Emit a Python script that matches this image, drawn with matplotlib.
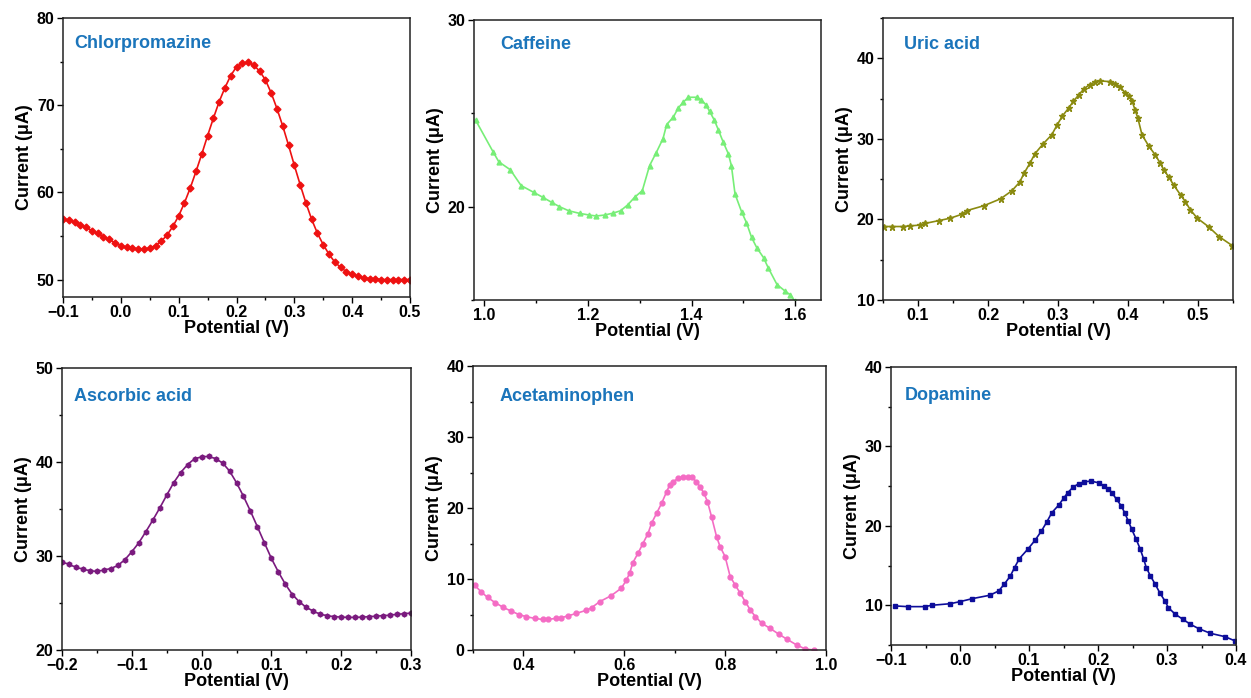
import matplotlib
matplotlib.use('Agg')
import matplotlib.pyplot as plt
from matplotlib.ticker import MultipleLocator

plt.rcParams['font.family'] = ['Liberation Sans', 'DejaVu Sans']
plt.rcParams['font.weight'] = 'bold'

# Chlorpromazine
cpz_x = [-0.10, -0.09, -0.08, -0.07, -0.06, -0.05, -0.04, -0.03, -0.02, -0.01,
         0.00, 0.01, 0.02, 0.03, 0.04, 0.05, 0.06, 0.07, 0.08, 0.09,
         0.10, 0.11, 0.12, 0.13, 0.14, 0.15, 0.16, 0.17, 0.18, 0.19,
         0.20, 0.21, 0.22, 0.23, 0.24, 0.25, 0.26, 0.27, 0.28, 0.29,
         0.30, 0.31, 0.32, 0.33, 0.34, 0.35, 0.36, 0.37, 0.38, 0.39,
         0.40, 0.41, 0.42, 0.43, 0.44, 0.45, 0.46, 0.47, 0.48, 0.49, 0.50]
cpz_y = [56.9, 56.8, 56.6, 56.3, 56.0, 55.6, 55.3, 54.9, 54.6, 54.2,
         53.9, 53.7, 53.6, 53.5, 53.5, 53.6, 53.9, 54.4, 55.1, 56.1,
         57.3, 58.8, 60.5, 62.4, 64.4, 66.5, 68.5, 70.4, 72.0, 73.4,
         74.4, 74.8, 74.9, 74.6, 73.9, 72.9, 71.4, 69.6, 67.6, 65.4,
         63.1, 60.9, 58.8, 56.9, 55.3, 54.0, 52.9, 52.0, 51.4, 50.9,
         50.6, 50.4, 50.2, 50.1, 50.1, 50.0, 50.0, 50.0, 50.0, 50.0, 50.0]

# Caffeine
caf_x = [0.983, 1.017, 1.028, 1.050, 1.071, 1.095, 1.113, 1.130, 1.145, 1.163,
         1.184, 1.203, 1.216, 1.232, 1.248, 1.263, 1.277, 1.290, 1.305, 1.319,
         1.332, 1.345, 1.352, 1.365, 1.374, 1.384, 1.394, 1.410, 1.419, 1.428,
         1.435, 1.444, 1.452, 1.461, 1.471, 1.477, 1.484, 1.497, 1.506, 1.516,
         1.526, 1.539, 1.548, 1.565, 1.581, 1.590, 1.600]
caf_y = [24.64, 22.93, 22.40, 21.98, 21.13, 20.77, 20.50, 20.23, 20.00, 19.78,
         19.64, 19.55, 19.50, 19.55, 19.65, 19.78, 20.10, 20.50, 20.86, 22.20,
         22.90, 23.65, 24.40, 24.80, 25.27, 25.60, 25.86, 25.86, 25.72, 25.45,
         25.10, 24.64, 24.10, 23.47, 22.84, 22.20, 20.68, 19.70, 19.15, 18.35,
         17.80, 17.27, 16.73, 15.83, 15.47, 15.29, 14.93]

# Uric acid
ua_x = [0.051, 0.063, 0.079, 0.089, 0.103, 0.110, 0.130, 0.146, 0.163, 0.170,
        0.194, 0.218, 0.234, 0.245, 0.252, 0.260, 0.267, 0.279, 0.291, 0.299,
        0.306, 0.315, 0.322, 0.330, 0.337, 0.345, 0.353, 0.360, 0.374, 0.382,
        0.389, 0.396, 0.401, 0.406, 0.410, 0.414, 0.420, 0.430, 0.439, 0.446,
        0.451, 0.458, 0.465, 0.475, 0.482, 0.489, 0.499, 0.515, 0.530, 0.549]
ua_y = [19.12, 19.12, 19.12, 19.2, 19.3, 19.5, 19.86, 20.15, 20.65, 21.1,
        21.7, 22.56, 23.55, 24.6, 25.8, 27.0, 28.15, 29.4, 30.5, 31.76,
        32.8, 33.8, 34.66, 35.5, 36.2, 36.73, 37.06, 37.2, 37.1, 36.85,
        36.44, 35.7, 35.28, 34.66, 33.6, 32.6, 30.5, 29.06, 28.0, 26.99,
        26.16, 25.3, 24.3, 23.05, 22.2, 21.2, 20.15, 19.1, 17.87, 16.75]

# Ascorbic acid
aa_x = [-0.20, -0.19, -0.18, -0.17, -0.16, -0.15, -0.14, -0.13, -0.12, -0.11,
        -0.10, -0.09, -0.08, -0.07, -0.06, -0.05, -0.04, -0.03, -0.02, -0.01,
        0.00, 0.01, 0.02, 0.03, 0.04, 0.05, 0.06, 0.07, 0.08, 0.09,
        0.10, 0.11, 0.12, 0.13, 0.14, 0.15, 0.16, 0.17, 0.18, 0.19,
        0.20, 0.21, 0.22, 0.23, 0.24, 0.25, 0.26, 0.27, 0.28, 0.29, 0.30]
aa_y = [29.38, 29.1, 28.8, 28.6, 28.43, 28.36, 28.5, 28.67, 29.0, 29.6,
        30.45, 31.4, 32.57, 33.8, 35.1, 36.47, 37.8, 38.88, 39.73, 40.36,
        40.54, 40.6, 40.36, 39.9, 39.05, 37.8, 36.35, 34.77, 33.1, 31.4,
        29.74, 28.3, 27.0, 25.9, 25.13, 24.53, 24.14, 23.8, 23.65, 23.54,
        23.5, 23.47, 23.47, 23.5, 23.54, 23.6, 23.65, 23.7, 23.8, 23.85, 23.93]

# Acetaminophen
ac_x = [0.303, 0.316, 0.329, 0.344, 0.360, 0.375, 0.391, 0.405, 0.422, 0.438,
        0.448, 0.465, 0.475, 0.488, 0.505, 0.525, 0.535, 0.551, 0.574, 0.594,
        0.604, 0.611, 0.617, 0.627, 0.637, 0.647, 0.654, 0.664, 0.674, 0.684,
        0.690, 0.697, 0.707, 0.717, 0.727, 0.734, 0.743, 0.750, 0.758, 0.765,
        0.773, 0.783, 0.790, 0.800, 0.810, 0.820, 0.830, 0.840, 0.850, 0.860,
        0.873, 0.889, 0.906, 0.923, 0.942, 0.959, 0.976]
ac_y = [9.15, 8.2, 7.4, 6.67, 6.0, 5.5, 5.0, 4.7, 4.46, 4.3,
        4.3, 4.46, 4.55, 4.8, 5.16, 5.6, 5.95, 6.8, 7.65, 8.7,
        9.8, 10.9, 12.3, 13.6, 15.0, 16.4, 17.84, 19.25, 20.66, 22.3,
        23.24, 23.7, 24.2, 24.4, 24.4, 24.3, 23.7, 23.0, 22.07, 20.9,
        18.78, 15.96, 14.55, 13.15, 10.33, 9.15, 7.98, 6.8, 5.63, 4.7,
        3.75, 3.05, 2.25, 1.5, 0.7, 0.14, 0.0]

# Dopamine
da_x = [-0.094, -0.076, -0.051, -0.041, -0.014, 0.000, 0.018, 0.043, 0.056, 0.064,
        0.073, 0.079, 0.086, 0.098, 0.109, 0.118, 0.126, 0.133, 0.143, 0.150,
        0.156, 0.164, 0.172, 0.180, 0.190, 0.201, 0.208, 0.215, 0.221, 0.227,
        0.234, 0.239, 0.244, 0.249, 0.255, 0.261, 0.266, 0.270, 0.276, 0.283,
        0.290, 0.297, 0.302, 0.312, 0.323, 0.334, 0.346, 0.363, 0.384, 0.399]
da_y = [9.92, 9.83, 9.83, 10.0, 10.2, 10.46, 10.84, 11.26, 11.8, 12.64,
        13.69, 14.74, 15.87, 17.04, 18.21, 19.35, 20.52, 21.65, 22.61, 23.45,
        24.16, 24.88, 25.3, 25.55, 25.63, 25.42, 25.08, 24.66, 24.08, 23.32,
        22.49, 21.57, 20.6, 19.55, 18.38, 17.12, 15.87, 14.74, 13.69, 12.64,
        11.5, 10.55, 9.7, 8.87, 8.24, 7.6, 7.06, 6.47, 6.05, 5.5]

W, H = 1251, 698
fig = plt.figure(figsize=(W / 100, H / 100), dpi=100)

# name, x, y, color, marker, xlim, ylim, xmajor, ymajor, axes box in px (l, r, t, b), label pos
panels = [
    ('Chlorpromazine', cpz_x, cpz_y, '#ee1111', 'D', (-0.1, 0.5), (48, 80), 0.1, 10, (63, 410, 18, 297), (0.032, 0.907)),
    ('Caffeine', caf_x, caf_y, '#77ee77', '^', (0.98, 1.65), (15, 30), 0.2, 10, (474, 821, 20, 300), (0.075, 0.914)),
    ('Uric acid', ua_x, ua_y, '#8a8a10', '*', (0.05, 0.55), (10, 45), 0.1, 10, (883, 1233, 18, 300), (0.06, 0.907)),
    ('Ascorbic acid', aa_x, aa_y, '#7a1a7e', 'h', (-0.2, 0.3), (20, 50), 0.1, 10, (62, 411, 368, 650), (0.034, 0.9)),
    ('Acetaminophen', ac_x, ac_y, '#f46cc4', 'o', (0.3, 1.0), (0, 40), 0.2, 10, (473, 826, 366, 650), (0.076, 0.894)),
    ('Dopamine', da_x, da_y, '#0d0d9a', 's', (-0.1, 0.4), (5, 40), 0.1, 10, (891, 1236, 367, 645), (0.04, 0.896)),
]

for name, xs, ys, col, mk, xl, yl, xm, ym, box, lp in panels:
    l, r, t, b = box
    ax = fig.add_axes([l / W, 1 - b / H, (r - l) / W, (b - t) / H])
    ms = 5 if mk == '*' else 3.5
    ax.plot(xs, ys, color=col, marker=mk, markersize=ms, linewidth=1.2)
    ax.set_xlim(*xl)
    ax.set_ylim(*yl)
    ax.xaxis.set_major_locator(MultipleLocator(xm))
    ax.xaxis.set_minor_locator(MultipleLocator(xm / 2))
    ax.yaxis.set_major_locator(MultipleLocator(ym))
    ax.yaxis.set_minor_locator(MultipleLocator(ym / 2))
    ax.xaxis.set_major_formatter(plt.FuncFormatter(lambda v, p: f'{v:.1f}'.replace('-', '\u2212')))
    ax.tick_params(which='major', direction='out', length=4, width=1, labelsize=11.5, pad=2)
    ax.tick_params(which='minor', direction='out', length=2.5, width=1)
    for s in ax.spines.values():
        s.set_linewidth(1.1)
        s.set_color('#222222')
    ax.set_xlabel('Potential (V)', fontsize=13, fontweight='bold', labelpad=0)
    ax.set_ylabel('Current (\u03bcA)', fontsize=13, fontweight='bold', labelpad=3)
    ax.text(lp[0], lp[1], name, transform=ax.transAxes, fontsize=13,
            fontweight='bold', color='#1b75bb', va='center', ha='left')

fig.savefig('out.png', dpi=100)
